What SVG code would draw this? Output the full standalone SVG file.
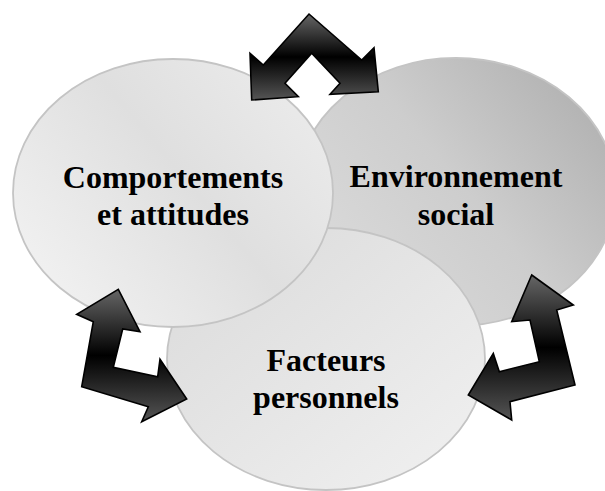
<svg xmlns="http://www.w3.org/2000/svg" width="605" height="491" viewBox="0 0 605 491">
  <defs>
    <linearGradient id="gLeft" x1="0" y1="0.85" x2="1" y2="0.15">
      <stop offset="0" stop-color="#f3f3f3"/>
      <stop offset="0.55" stop-color="#dfdfdf"/>
      <stop offset="1" stop-color="#ececec"/>
    </linearGradient>
    <linearGradient id="gRight" x1="0" y1="0.8" x2="1" y2="0.1">
      <stop offset="0" stop-color="#dcdcdc"/>
      <stop offset="0.5" stop-color="#cdcdcd"/>
      <stop offset="1" stop-color="#adadad"/>
    </linearGradient>
    <linearGradient id="gBottom" x1="0" y1="0" x2="1" y2="1">
      <stop offset="0" stop-color="#dadada"/>
      <stop offset="1" stop-color="#f1f1f1"/>
    </linearGradient>
    <linearGradient id="gArrow" x1="0" y1="0" x2="0" y2="1">
      <stop offset="0" stop-color="#666666"/>
      <stop offset="0.5" stop-color="#000000"/>
      <stop offset="1" stop-color="#555555"/>
    </linearGradient>
  </defs>
  <style>
    .node { stroke: #c4c4c4; stroke-width: 1.8; }
    .label { font-family: "Liberation Serif", "Times New Roman", serif; font-weight: bold; font-size: 32px; fill: #000; text-anchor: middle; }
    .arrow { fill: url(#gArrow); stroke: #000; stroke-width: 1.6; stroke-linejoin: miter; }
  </style>
  <rect x="0" y="0" width="605" height="491" fill="#ffffff"/>

  <g id="node-environnement">
    <ellipse class="node" cx="456" cy="192" rx="160" ry="134" fill="url(#gRight)"/>
    <text class="label" x="456" y="187">Environnement</text>
    <text class="label" x="456" y="225">social</text>
  </g>

  <g id="node-facteurs">
    <ellipse class="node" cx="326" cy="359" rx="159" ry="131" fill="url(#gBottom)"/>
    <text class="label" x="326" y="371">Facteurs</text>
    <text class="label" x="326" y="408">personnels</text>
  </g>

  <g id="node-comportements">
    <ellipse class="node" cx="173" cy="193" rx="160" ry="134" fill="url(#gLeft)"/>
    <text class="label" x="173" y="188">Comportements</text>
    <text class="label" x="173" y="225">et attitudes</text>
  </g>

  <g id="connectors">
    <polygon class="arrow" points="309,14 361.7,60 374,47.7 378.3,91.7 330,94.3 340,83.3 311.7,53.3 285,83.3 298.3,96.7 251.7,100 250,53.3 263.3,65"/>
    <polygon class="arrow" points="118.3,289.3 140,331.7 122.7,329 113.3,367.3 157.7,376.7 160,359.3 186.7,399 141.7,421.7 148.3,406.7 81.7,386.7 93.3,321.7 76.7,314.3"/>
    <polygon class="arrow" points="531.7,275 573.3,305 556.7,310 575,385 510,401.7 511.7,420 468.3,395 493.3,353.3 499.3,371.7 539.3,361.7 530,320 511.7,321.7"/>
  </g>
</svg>
